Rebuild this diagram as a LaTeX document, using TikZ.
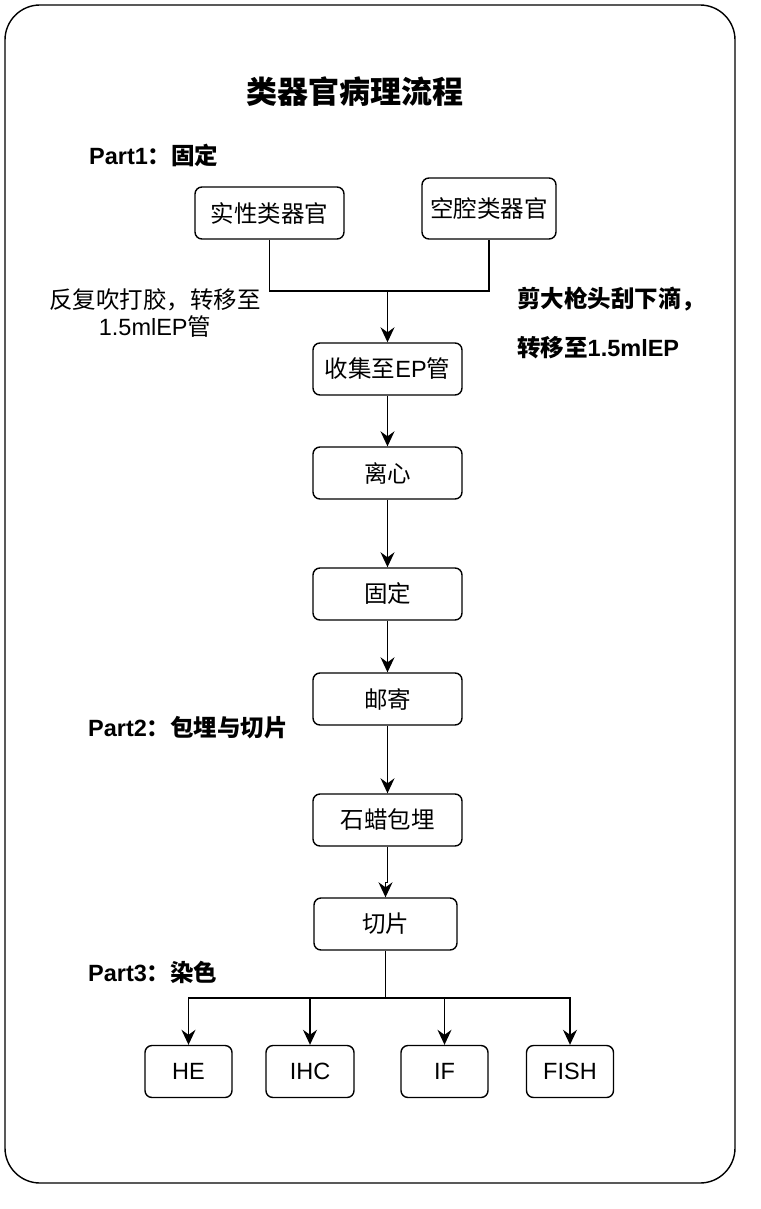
\documentclass[tikz,border=0pt]{standalone}
\usepackage{fontspec}
\setmainfont{Liberation Sans}
\newfontfamily\cjk{Noto Sans CJK SC}
\usetikzlibrary{arrows.meta}
\newcommand{\zh}[1]{{\cjk #1}}
\tikzset{
  box/.style={draw, rounded corners=7pt, line width=1.4pt,
    minimum width=149pt, minimum height=52pt, inner sep=0pt,
    font=\fontsize{23.5}{27}\selectfont},
  smallbox/.style={box, minimum width=87pt},
  link/.style={line width=1.4pt},
  flow/.style={link, -{Stealth[length=15pt,width=14pt,inset=5pt]}},
  parttext/.style={anchor=west, inner sep=0pt,
    font=\bfseries\fontsize{23.5}{27}\selectfont},
}

\begin{document}
\begin{tikzpicture}[x=1pt,y=-1pt]

    \useasboundingbox (0,0) rectangle (760,1209);

    %Rahmen
    \draw[link, rounded corners=35pt] (5,5) rectangle (735,1183);

    %Titel
    \node[font=\bfseries\fontsize{31}{36}\selectfont] (title) at (355,92)
        {\zh{类器官病理流程}};
    \node[parttext] (p1) at (89,155) {Part1\zh{：固定}};
    \node[parttext] (p2) at (88,728) {Part2\zh{：包埋与切片}};
    \node[parttext] (p3) at (88,972) {Part3\zh{：染色}};

    %Boxen
    \node[box] (sx) at (269.5,213) {\zh{实性类器官}};
    \node[box, minimum width=134pt, minimum height=61pt] (kq) at (489,208.5)
        {\zh{空腔类器官}};
    \node[box] (sj) at (387.5,369) {\zh{收集至}EP\zh{管}};
    \node[box] (lx) at (387.5,473) {\zh{离心}};
    \node[box] (gd) at (387.5,594) {\zh{固定}};
    \node[box] (yj) at (387.5,699) {\zh{邮寄}};
    \node[box] (sl) at (387.5,820) {\zh{石蜡包埋}};
    \node[box, minimum width=143pt] (qp) at (385.5,924) {\zh{切片}};
    \node[smallbox] (he) at (188.5,1071.5) {HE};
    \node[smallbox, minimum width=88pt] (ihc) at (310,1071.5) {IHC};
    \node[smallbox] (ifx) at (444.5,1071.5) {IF};
    \node[smallbox] (fish) at (570,1071.5) {FISH};

    %Hinweise
    \node[align=center, font=\fontsize{23.5}{27}\selectfont] (tl) at (155,313)
        {\zh{反复吹打胶，转移至}\\1.5mlEP\zh{管}};
    \node[anchor=west, align=left, inner sep=0pt,
        font=\bfseries\fontsize{23.5}{27}\selectfont] (tr) at (517,322.5)
        {\zh{剪大枪头刮下滴，}\\[22pt]\zh{转移至}1.5mlEP};

    %Pfeile
    \coordinate (merge) at (387.5,291);
    \draw[link] (sx.south) |- (merge) -| (kq.south);
    \draw[flow] (merge) -- (sj.north);
    \foreach \a/\b in {sj/lx, lx/gd, gd/yj, yj/sl}
        \draw[flow] (\a) -- (\b);
    \draw[flow] (sl.south) -- ++(0,36) -| (qp.north);

    \coordinate (split) at (385.5,998);
    \draw[link] (qp.south) -- (split);
    \foreach \n in {he, ihc, ifx, fish}
        \draw[flow] (split) -| (\n.north);

\end{tikzpicture}
\end{document}
